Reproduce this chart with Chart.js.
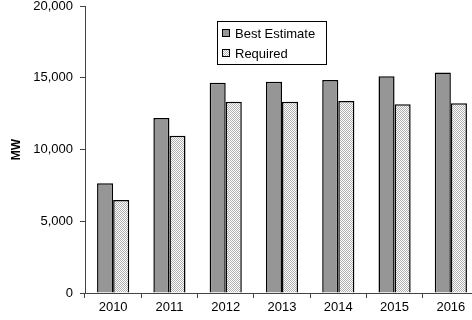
<!DOCTYPE html>
<html>
<head>
<meta charset="utf-8">
<script src="https://cdn.jsdelivr.net/npm/chart.js@4"></script>
<style>
  html, body { margin: 0; padding: 0; background: #fff; overflow: hidden; width: 472px; height: 320px; }
  #wrap { width: 480px; height: 320px; position: relative; }
</style>
</head>
<body>
<div id="wrap"><canvas id="c" width="480" height="320"></canvas></div>
<script>
// Capacity by year, MW
const years = ['2010', '2011', '2012', '2013', '2014', '2015', '2016'];
const bestEstimate = [7650, 12200, 14650, 14720, 14850, 15100, 15370];
const required = [6480, 10950, 13320, 13320, 13380, 13150, 13220];
const yTicks = [0, 5000, 10000, 15000, 20000];

const FONT = 'Liberation Sans, Arial, sans-serif';

// fine stipple used for the "Required" bars
const ctx0 = document.getElementById('c').getContext('2d');
const reqFill = ctx0.createPattern((() => {
  const p = document.createElement('canvas');
  p.width = 2; p.height = 2;
  const g = p.getContext('2d');
  g.fillStyle = '#ffffff'; g.fillRect(0, 0, 2, 2);
  g.fillStyle = '#b0b0b0';
  g.fillRect(0, 0, 1, 1); g.fillRect(1, 1, 1, 1);
  return p;
})(), 'repeat');

// boxed legend inside the plot area
const boxLegend = {
  id: 'boxLegend',
  afterDraw(chart) {
    const c = chart.ctx;
    const x = 217, y = 21, w = 109, h = 43;
    c.save();
    c.fillStyle = '#fff';
    c.fillRect(x, y, w, h);
    c.strokeStyle = '#000';
    c.lineWidth = 1;
    c.strokeRect(x + 0.5, y + 0.5, w, h);
    c.font = '13px ' + FONT;
    c.textBaseline = 'middle';
    chart.data.datasets.forEach((ds, i) => {
      const cy = y + 12 + i * 20;
      c.fillStyle = ds.backgroundColor;
      c.fillRect(222, cy - 4, 8, 8);
      c.strokeStyle = '#000';
      c.strokeRect(222.5, cy - 3.5, 7, 7);
      c.fillStyle = '#000';
      c.fillText(ds.label, 235, cy + 1);
    });
    c.restore();
  }
};

new Chart(document.getElementById('c'), {
  type: 'bar',
  data: {
    labels: years,
    datasets: [
      { label: 'Best Estimate', data: bestEstimate, backgroundColor: '#969696',
        borderColor: '#000', borderWidth: 1.5 },
      { label: 'Required', data: required, backgroundColor: reqFill,
        borderColor: '#000', borderWidth: 1.5 }
    ]
  },
  options: {
    responsive: false,
    animation: false,
    devicePixelRatio: 1,
    layout: { padding: { top: 6, right: 1, left: 0, bottom: 0 } },
    datasets: { bar: { categoryPercentage: 32 / 56, barPercentage: 1 } },
    plugins: { legend: { display: false }, tooltip: { enabled: false } },
    scales: {
      x: {
        grid: { drawOnChartArea: false, offset: true, tickLength: 5, color: '#444' },
        border: { color: '#444', width: 1 },
        ticks: { color: '#000', font: { family: FONT, size: 13 }, padding: 2, maxRotation: 0 },
        afterFit(s) { s.height = 27; s.paddingLeft = 0; s.paddingRight = 0; }
      },
      y: {
        min: 0, max: 20000,
        afterBuildTicks(s) { s.ticks = yTicks.map(v => ({ value: v })); },
        grid: { drawOnChartArea: false, tickLength: 5, color: '#444' },
        border: { color: '#444', width: 1 },
        ticks: { color: '#000', font: { family: FONT, size: 13 }, padding: 7,
                 callback: v => v.toLocaleString('en-US') },
        title: { display: true, text: 'MW', color: '#000', font: { family: FONT, size: 12, weight: 'bold' }, padding: { top: 9, bottom: 0 } },
        afterFit(s) { s.width = 85; s.paddingTop = 0; s.paddingBottom = 0; }
      }
    }
  },
  plugins: [boxLegend]
});
</script>
</body>
</html>
